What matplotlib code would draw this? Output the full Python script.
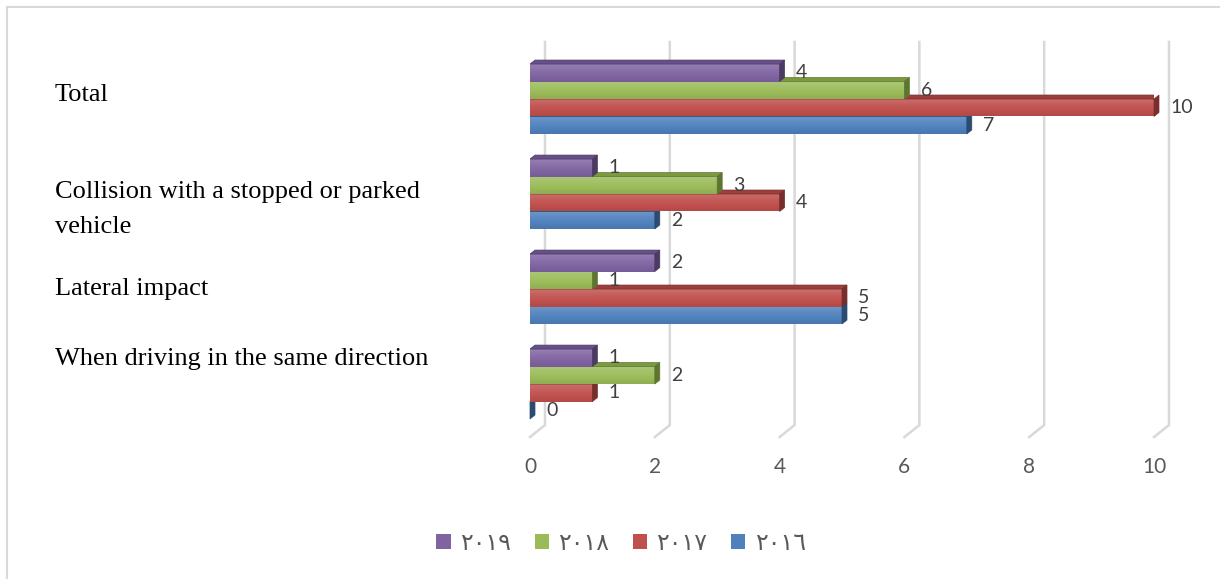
import numpy as np
import matplotlib.pyplot as plt
from matplotlib.colors import LinearSegmentedColormap, to_rgb
from matplotlib.patches import Polygon, Patch
from matplotlib.lines import Line2D

# collision types, listed bottom to top as they sit on the chart
categories = ['When driving in the same direction', 'Lateral impact',
              'Collision with a stopped or parked\nvehicle', 'Total']
years = ['٢٠١٩', '٢٠١٨', '٢٠١٧', '٢٠١٦']
counts = {
    '٢٠١٩': [1, 2, 1, 4],
    '٢٠١٨': [2, 1, 3, 6],
    '٢٠١٧': [1, 5, 4, 10],
    '٢٠١٦': [0, 5, 2, 7],
}
xticks = [0, 2, 4, 6, 8, 10]

# front colour, top face, side face
colors = {
    '٢٠١٩': ('#8064A2', '#66508a', '#4b3a61'),
    '٢٠١٨': ('#9BBB59', '#7b9a40', '#5e7530'),
    '٢٠١٧': ('#C0504D', '#9c3f3c', '#772e2c'),
    '٢٠١٦': ('#4F81BD', '#3d6698', '#2c4b70'),
}


def shade(c, f):
    r, g, b = to_rgb(c)
    if f > 0:
        return (r + (1 - r) * f, g + (1 - g) * f, b + (1 - b) * f)
    return (r * (1 + f), g * (1 + f), b * (1 + f))


fig = plt.figure(figsize=(12.2, 5.79), dpi=100)
ax = fig.add_axes([530 / 1220, 1 - 440 / 579, 624 / 1220, 398 / 579])
ax.axis('off')

# back-wall gridlines with a short floor segment
wall_dx = 0.24
for v in xticks:
    ax.plot([v + wall_dx, v + wall_dx, v], [3.6, -0.432, -0.558],
            color='#d9d9d9', lw=1.8, solid_joinstyle='miter',
            clip_on=False, zorder=1)
    ax.text(v, -0.874, str(v), ha='center', va='center', fontsize=15,
            family='Lato', color='#595959')

bar_h = 0.184
dx, dy = 0.08, 0.042
offsets = {'٢٠١٩': 1.5, '٢٠١٨': 0.5, '٢٠١٧': -0.5, '٢٠١٦': -1.5}
grad = np.linspace(0, 1, 64).reshape(-1, 1)

z = 2
for i in range(len(categories)):
    # lowest bar first so the bar above hides its top face
    for year in reversed(years):
        v = counts[year][i]
        front, top, side = colors[year]
        yc = i + offsets[year] * bar_h
        yb, yt = yc - bar_h / 2, yc + bar_h / 2
        if v > 0:
            cmap = LinearSegmentedColormap.from_list(
                'face', [shade(front, 0.18), shade(front, 0.08), front, shade(front, -0.08)])
            ax.imshow(grad, cmap=cmap, extent=(0, v, yb, yt), origin='upper',
                      aspect='auto', interpolation='bilinear', zorder=z)
        ax.add_patch(Polygon([(0, yt), (v, yt), (v + dx, yt + dy), (dx, yt + dy)],
                             closed=True, facecolor=top, edgecolor=side,
                             lw=0.5, zorder=z))
        ax.add_patch(Polygon([(v, yb), (v + dx, yb + dy), (v + dx, yt + dy), (v, yt)],
                             closed=True, facecolor=side, edgecolor=side,
                             lw=0.5, zorder=z, clip_on=False))
        # value labels sit above every bar
        ax.text(v + 0.26, yc, str(v), ha='left', va='center', fontsize=14,
                family='Lato', color='#404040', zorder=200, clip_on=False)
        z += 1

ax.set_xlim(0, 10)
ax.set_ylim(-0.589, 3.6)

# category labels on the left
label_y = [359, 289, 209.5, 95]
for name, yp in zip(categories, label_y):
    fig.text(55 / 1220, 1 - yp / 579, name, ha='left', va='center',
             fontsize=19, family='Liberation Serif', color='black',
             linespacing=1.72)

handles = [Patch(facecolor=colors[y][0], edgecolor='none') for y in years]
fig.legend(handles, years, loc='center', bbox_to_anchor=(621 / 1220, 1 - 543 / 579),
           ncol=4, frameon=False, handlelength=0.6, handleheight=0.6,
           handletextpad=0.4, columnspacing=1.0,
           prop={'family': 'DejaVu Sans', 'size': 17}, labelcolor='#595959')

# outer chart border
fig.add_artist(Line2D([7 / 1220, 1], [1 - 7 / 579, 1 - 7 / 579],
                      color='#d9d9d9', lw=1.5, transform=fig.transFigure))
fig.add_artist(Line2D([7 / 1220, 7 / 1220], [0, 1 - 7 / 579],
                      color='#d9d9d9', lw=1.5, transform=fig.transFigure))

fig.savefig('out.png', dpi=100)
